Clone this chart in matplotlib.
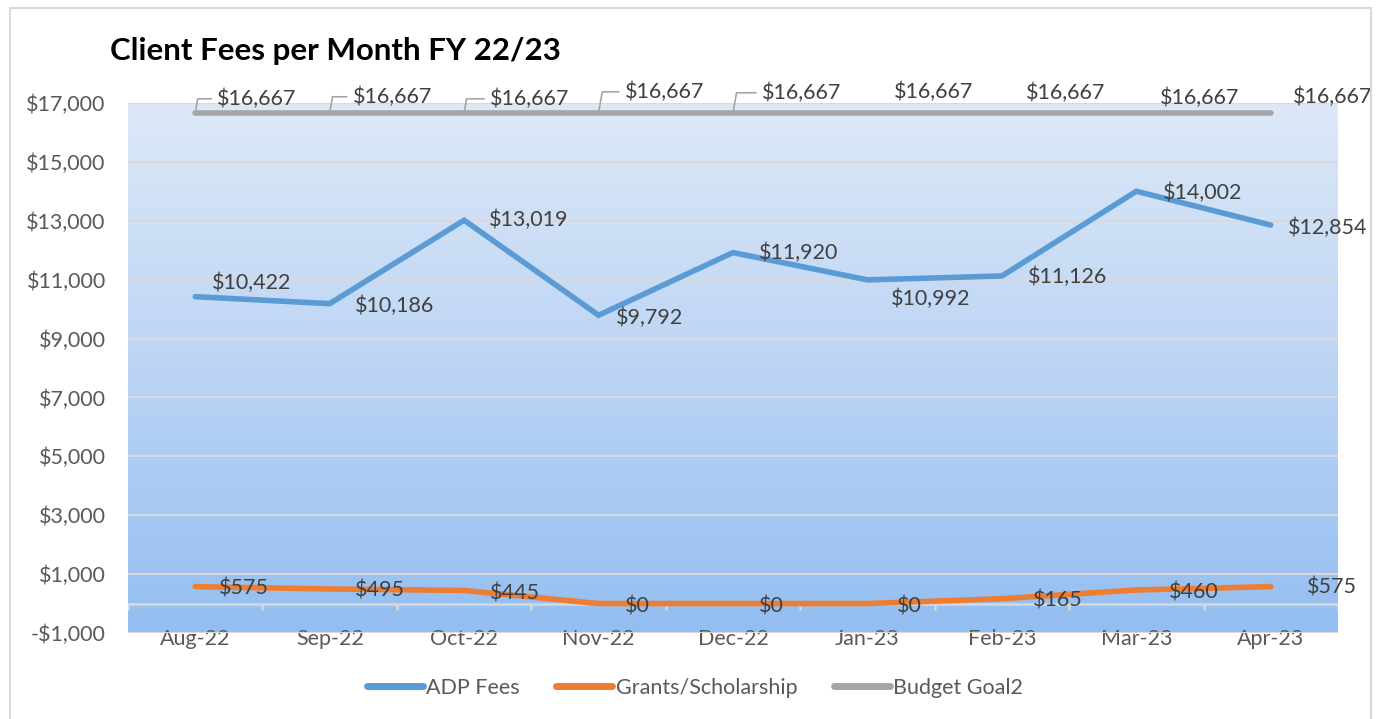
import matplotlib
matplotlib.use("Agg")
import matplotlib.pyplot as plt
import numpy as np
from matplotlib.colors import LinearSegmentedColormap
from matplotlib.patches import Rectangle

plt.rcParams["font.family"] = ["Lato", "DejaVu Sans"]

# ---------------------------------------------------------------------------
# Data
# ---------------------------------------------------------------------------
months = ["Aug-22", "Sep-22", "Oct-22", "Nov-22", "Dec-22",
          "Jan-23", "Feb-23", "Mar-23", "Apr-23"]
adp_fees = [10422, 10186, 13019, 9792, 11920, 10992, 11126, 14002, 12854]
grants = [575, 495, 445, 0, 0, 0, 165, 460, 575]
budget_goal = [16667] * 9
y_ticks = list(range(-1000, 17001, 2000))

# label offsets in pixels (dx, dy) relative to each point
adp_offsets = [(17, 14), (25, -2), (25, 0), (17, -3), (26, 0),
               (23, -19), (26, -1), (27, -2), (17, -3)]
grant_offsets = [(24, -2), (25, -2), (26, -3), (26, -3), (26, -3),
                 (29, -3), (31, -2), (33, -2), (36, -1)]
budget_offsets = [(22, 14), (23, 16), (26, 14), (26, 21), (29, 20),
                  (26, 21), (24, 20), (24, 15), (22, 16)]
budget_leader = [True, True, True, True, True, False, False, False, False]

BLUE = "#5b9bd5"
ORANGE = "#ed7d31"
GRAY = "#a5a5a5"
TEXT = "#595959"
LABEL = "#404040"
GRID = "#d9d9d9"

W, H, DPI = 1381, 719, 100
fig = plt.figure(figsize=(W / DPI, H / DPI), dpi=DPI)
ax = fig.add_axes([128 / W, (H - 633) / H, (1338 - 128) / W, (633 - 103) / H])

x = np.arange(len(months))
xlim = (-0.5, len(months) - 0.5)
ylim = (y_ticks[0], y_ticks[-1])
ax.set_xlim(xlim)
ax.set_ylim(ylim)

# gradient plot-area fill (light at top, deeper blue at bottom)
cmap = LinearSegmentedColormap.from_list("bg", ["#dde9f8", "#bcd4f4", "#93bef1"])
grad = np.linspace(0, 1, 256).reshape(-1, 1)
ax.imshow(grad, cmap=cmap, aspect="auto", extent=(*xlim, *ylim),
          origin="upper", zorder=0)

ax.set_yticks(y_ticks)
ax.set_yticklabels([f"${v:,}" if v >= 0 else f"-${-v:,}" for v in y_ticks])
ax.grid(axis="y", color=GRID, linewidth=1.5, zorder=1)
ax.set_axisbelow(True)
for s in ax.spines.values():
    s.set_visible(False)

# category axis at zero with boundary tick marks
ax.axhline(0, color=GRID, linewidth=1.8, zorder=1)
bounds = np.arange(len(months) + 1) - 0.5
ax.vlines(bounds, -210, 0, color=GRID, linewidth=1.8, zorder=1)

ax.set_xticks(x)
ax.set_xticklabels(months)
ax.tick_params(axis="x", length=0, pad=-3, labelsize=15.5, labelcolor=TEXT)
ax.tick_params(axis="y", length=0, pad=16, labelsize=15.5, labelcolor=TEXT)

lw = 4
ax.plot(x, adp_fees, color=BLUE, lw=lw, solid_capstyle="round",
        solid_joinstyle="miter", label="ADP Fees", zorder=3)
ax.plot(x, grants, color=ORANGE, lw=lw, solid_capstyle="round",
        solid_joinstyle="round", label="Grants/Scholarship", zorder=3)
ax.plot(x, budget_goal, color=GRAY, lw=lw, solid_capstyle="round",
        label="Budget Goal2", zorder=3)

lab_kw = dict(textcoords="offset pixels", fontsize=15.5, color=LABEL,
              ha="left", va="center", zorder=4, annotation_clip=False)
for xi, v, (dx, dy) in zip(x, adp_fees, adp_offsets):
    ax.annotate(f"${v:,}", (xi, v), xytext=(dx, dy), **lab_kw)
for xi, v, (dx, dy) in zip(x, grants, grant_offsets):
    ax.annotate(f"${v:,}", (xi, v), xytext=(dx, dy), **lab_kw)
for xi, v, (dx, dy), lead in zip(x, budget_goal, budget_offsets, budget_leader):
    ax.annotate(f"${v:,}", (xi, v), xytext=(dx, dy), **lab_kw)
    if lead:
        ax.annotate("", (xi, v), xytext=(dx - 6, dy), textcoords="offset pixels",
                    arrowprops=dict(arrowstyle="-", color=GRAY, lw=1.2,
                                    shrinkA=0, shrinkB=0,
                                    connectionstyle="angle,angleA=0,angleB=80,rad=0"),
                    zorder=4, annotation_clip=False)

fig.text(110 / W, 1 - 51 / H, "Client Fees per Month FY 22/23", fontsize=22.5,
         fontweight="bold", color="black", ha="left", va="center")

leg = fig.legend(loc="center", bbox_to_anchor=(695 / W, 1 - 688 / H), ncol=3,
                 frameon=False, fontsize=15.5, handlelength=2.6,
                 handletextpad=0.15, columnspacing=1.7, labelcolor=TEXT)
for line in leg.get_lines():
    line.set_linewidth(5)
    line.set_solid_capstyle("round")

# outer chart border
fig.patches.append(Rectangle((10 / W, -0.05), (1371 - 10) / W, 1.05 - 8 / H,
                             transform=fig.transFigure, fill=False,
                             edgecolor=GRID, linewidth=1.5))

fig.savefig("out.png", dpi=DPI)
